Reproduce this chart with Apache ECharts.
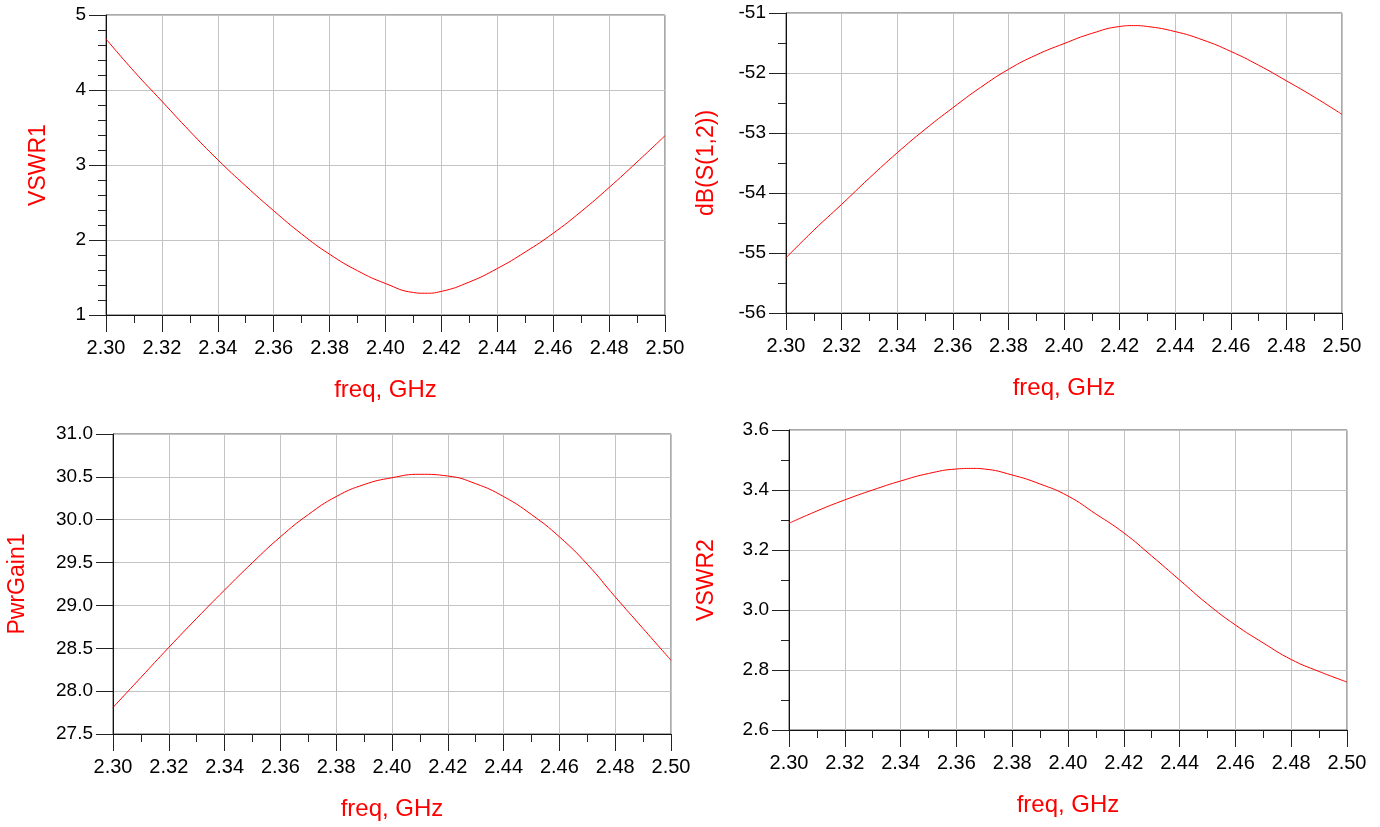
<!DOCTYPE html>
<html>
<head>
<meta charset="utf-8">
<script src="https://cdn.jsdelivr.net/npm/echarts@6/dist/echarts.min.js"></script>
<style>
html,body{margin:0;padding:0;background:#fff;}
#c{width:1380px;height:827px;}
</style>
</head>
<body>
<div id="c"></div>
<script>
const freq1 = [2.30,2.31,2.32,2.33,2.34,2.35,2.36,2.37,2.38,2.39,2.40,2.41,2.414,2.42,2.43,2.44,2.45,2.46,2.47,2.48,2.49,2.50];
const vswr1 = [4.68,4.25,3.85,3.45,3.07,2.72,2.39,2.08,1.81,1.59,1.42,1.30,1.29,1.315,1.44,1.62,1.84,2.09,2.38,2.70,3.04,3.39];
const freq2 = [2.30,2.31,2.32,2.33,2.34,2.35,2.36,2.37,2.38,2.39,2.40,2.41,2.42,2.425,2.43,2.44,2.45,2.46,2.47,2.48,2.49,2.50];
const dbS12 = [-55.08,-54.62,-54.19,-53.75,-53.33,-52.94,-52.58,-52.24,-51.94,-51.70,-51.51,-51.34,-51.225,-51.21,-51.225,-51.31,-51.45,-51.64,-51.87,-52.13,-52.40,-52.69];
const freq3 = [2.30,2.31,2.32,2.33,2.34,2.35,2.36,2.37,2.38,2.39,2.40,2.41,2.42,2.43,2.44,2.45,2.46,2.47,2.48,2.49,2.50];
const pwrGain1 = [27.81,28.16,28.51,28.85,29.18,29.50,29.80,30.06,30.27,30.41,30.49,30.53,30.51,30.42,30.27,30.06,29.80,29.48,29.10,28.73,28.36];
const freq4 = [2.30,2.31,2.32,2.33,2.34,2.35,2.36,2.366,2.37,2.38,2.39,2.40,2.41,2.42,2.43,2.44,2.45,2.46,2.47,2.48,2.49,2.50];
const vswr2 = [3.289,3.33,3.367,3.40,3.43,3.455,3.470,3.472,3.470,3.45,3.42,3.38,3.32,3.257,3.18,3.10,3.02,2.95,2.89,2.835,2.795,2.76];

const xTitle = "freq, GHz";
const yTitles = ["VSWR1", "dB(S(1,2))", "PwrGain1", "VSWR2"];
const yRanges = [[1,5,1,5],[-56,-51,1,2],[27.5,31.0,0.5,0],[2.6,3.6,0.2,2]]; // min,max,interval,minor segments
const yDecimals = [0,0,1,1];

const FONT = "Liberation Sans, Arial, Helvetica, sans-serif";
const grids = [
  {left:106, top:15, width:559, height:300},
  {left:786, top:13, width:556, height:300},
  {left:113, top:434, width:558, height:300},
  {left:789, top:430, width:558, height:300}
];
const yNameGaps = [56, 68, 84, 71];
const xs = [freq1, freq2, freq3, freq4];
const seriesData = [vswr1, dbS12, pwrGain1, vswr2];

const option = {
  animation:false,
  backgroundColor:'#fff',
  grid: grids.map(g => Object.assign({show:true, borderColor:'#555', borderWidth:1, backgroundColor:'transparent'}, g)),
  xAxis: grids.map((g,i) => ({
    type:'value', gridIndex:i, min:2.3, max:2.5, interval:0.02,
    name:xTitle, nameLocation:'middle', nameGap:63,
    nameTextStyle:{color:'#ff0000', fontSize:24, fontFamily:FONT},
    axisLine:{show:true, lineStyle:{color:'#111', width:1}},
    axisTick:{show:true, length:17, lineStyle:{color:'#222'}},
    minorTick:{show:true, splitNumber:2, length:8, lineStyle:{color:'#222'}},
    axisLabel:{color:'#000', fontSize:20, fontFamily:FONT, margin:23, formatter:v=>v.toFixed(2)},
    splitLine:{show:true, lineStyle:{color:'#c4c4c4', width:1}},
    minorSplitLine:{show:false}
  })),
  yAxis: grids.map((g,i) => ({
    type:'value', gridIndex:i, min:yRanges[i][0], max:yRanges[i][1], interval:yRanges[i][2],
    name:yTitles[i], nameLocation:'middle', nameGap:yNameGaps[i], nameRotate:90,
    nameTextStyle:{color:'#ff0000', fontSize:23, fontFamily:FONT},
    axisLine:{show:true, lineStyle:{color:'#111', width:1}},
    axisTick:{show:true, length:17, lineStyle:{color:'#222'}},
    minorTick:{show:yRanges[i][3]>0, splitNumber:yRanges[i][3]||2, length:8, lineStyle:{color:'#222'}},
    axisLabel:{color:'#000', fontSize:19, fontFamily:FONT, margin:20, formatter:v=>v.toFixed(yDecimals[i])},
    splitLine:{show:true, lineStyle:{color:'#c4c4c4', width:1}},
    minorSplitLine:{show:false}
  })),
  series: seriesData.map((d,i) => ({
    type:'line', xAxisIndex:i, yAxisIndex:i,
    data: xs[i].map((f,k)=>[f,d[k]]),
    smooth:0.5, showSymbol:false, symbol:'none',
    lineStyle:{color:'#ff0000', width:1},
    clip:true
  }))
};
const chart = echarts.init(document.getElementById('c'), null, {renderer:'canvas'});
chart.setOption(option);
</script>
</body>
</html>
